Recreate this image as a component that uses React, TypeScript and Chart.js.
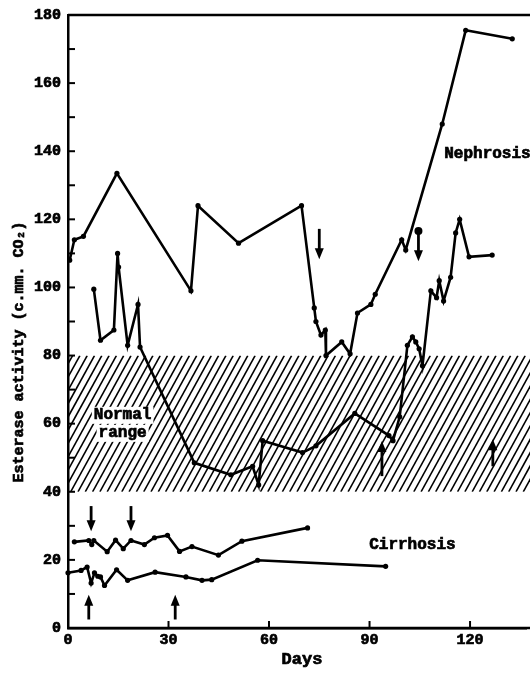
import React, { useEffect, useRef } from "react";
import { Chart, registerables } from "chart.js";

Chart.register(...registerables);

// ---- data (days, esterase activity c.mm. CO2) ----
const nephUpDays = [0.5, 1.9, 4.6, 14.6, 36.7, 38.8, 50.9, 69.7, 73.5, 74, 75.5, 76.8, 77, 81.7, 84.2, 86.4, 90.4, 91.7, 99.6, 100.8, 111.7, 118.7, 132.6];
const nephUpVals = [108, 114, 115, 133.5, 99, 124, 113, 124, 94, 90, 86, 87.5, 80, 84, 80.5, 92.5, 95, 98, 114, 111, 148, 175.5, 173];

const nephLowDays = [7.7, 9.7, 13.7, 14.8, 15.1, 17.8, 20.9, 21.5, 37.7, 48.6, 55.1, 56.9, 58.1, 70, 74, 85.6, 95.8, 97, 99, 101.3, 102.8, 103.8, 104.8, 105.8, 108.3, 110, 110.8, 112.1, 114.2, 115.7, 116.9, 119.7, 126.6];
const nephLowVals = [99.5, 84.5, 87.5, 110, 106, 83, 95, 82.5, 48.5, 45, 47.5, 42, 55, 51.5, 53.5, 63, 56.5, 55, 62, 83, 85.5, 84, 82, 77, 99, 97, 102, 96, 103, 116, 120, 109, 109.5];

const cirrUpDays = [1.9, 6.2, 7.1, 7.7, 11.7, 14.2, 16.5, 18.8, 22.8, 25.8, 29.7, 33.3, 37, 44.9, 51.9, 71.5];
const cirrUpVals = [25.3, 25.7, 24.5, 25.7, 22.4, 25.8, 23.3, 25.7, 24.5, 26.5, 27.2, 22.5, 23.9, 21.4, 25.5, 29.4];

const cirrLowDays = [0, 3.9, 5.7, 6.9, 7.9, 8.9, 9.7, 10.9, 14.5, 17.8, 26, 35.2, 40, 42.9, 56.6, 94.8];
const cirrLowVals = [16.2, 16.9, 17.9, 13.2, 16.2, 15.2, 15, 12.5, 17.1, 14, 16.4, 15, 14, 14.2, 19.9, 18.1];

// normal range band
const normalLow = 40;
const normalHigh = 80;

// arrows: day, tail value, head value, dot at tail
const arrowDays = [75, 104.6, 93.7, 126.8, 6.9, 18.8, 6.2, 32];
const arrowTails = [117.2, 116.6, 44.6, 47.5, 35.8, 35.8, 2.5, 2.5];
const arrowHeads = [108.3, 107.7, 54.9, 55.4, 28.4, 28.4, 9.8, 9.8];
const arrowDots = [false, true, false, false, false, false, false, false];

// text labels
const labelTexts = ["Nephrosis", "Cirrhosis", "Normal", "range"];
const labelDays = [112.3, 89.9, 16.3, 16.3];
const labelVals = [139.3, 24.5, 62.6, 57.3];
const labelAligns = ["left", "left", "center", "center"];

const xTicks = [0, 30, 60, 90, 120];
const yTicks = [0, 20, 40, 60, 80, 100, 120, 140, 160, 180];

const FONT = '"Liberation Mono", monospace';

const pts = (xs: number[], ys: number[]) => xs.map((x, i) => ({ x, y: ys[i] }));

const heavy = (ctx: CanvasRenderingContext2D, t: string, x: number, y: number) => {
  ctx.fillText(t, x, y);
  ctx.lineWidth = 0.7;
  ctx.strokeText(t, x, y);
};

const decor = {
  id: "decor",
  beforeDatasetsDraw(chart: any) {
    const { ctx, chartArea, scales } = chart;
    const y1 = scales.y.getPixelForValue(normalHigh);
    const y0 = scales.y.getPixelForValue(normalLow);
    const h = y0 - y1;
    const right = chart.width;
    ctx.save();
    ctx.beginPath();
    ctx.rect(chartArea.left, y1, right - chartArea.left, h);
    ctx.clip();
    ctx.strokeStyle = "#000";
    ctx.lineWidth = 1.6;
    const slope = 0.55;
    for (let bx = chartArea.left - h * slope - 10; bx < right + 10; bx += 7.3) {
      ctx.beginPath();
      ctx.moveTo(bx, y0);
      ctx.lineTo(bx + h * slope, y1);
      ctx.stroke();
    }
    ctx.restore();
  },
  afterDatasetsDraw(chart: any) {
    const { ctx, chartArea, scales } = chart;
    const xs = scales.x;
    const ys = scales.y;
    const right = chart.width;
    ctx.save();
    ctx.strokeStyle = "#000";
    ctx.fillStyle = "#000";
    // top and bottom border extended to the edge
    ctx.lineWidth = 2.5;
    ctx.beginPath();
    ctx.moveTo(chartArea.left, chartArea.top);
    ctx.lineTo(right, chartArea.top);
    ctx.moveTo(chartArea.left, chartArea.bottom);
    ctx.lineTo(right, chartArea.bottom);
    ctx.stroke();
    // inner ticks
    ctx.lineWidth = 2;
    for (let v = 10; v < 180; v += 10) {
      const py = ys.getPixelForValue(v);
      ctx.beginPath();
      ctx.moveTo(chartArea.left, py);
      ctx.lineTo(chartArea.left + 7, py);
      ctx.stroke();
    }
    xTicks.slice(1).forEach((v) => {
      const px = xs.getPixelForValue(v);
      ctx.beginPath();
      ctx.moveTo(px, chartArea.bottom);
      ctx.lineTo(px, chartArea.bottom - 7);
      ctx.stroke();
    });
    // tick labels
    ctx.font = `bold 15px ${FONT}`;
    ctx.textBaseline = "middle";
    ctx.textAlign = "right";
    yTicks.forEach((v) => heavy(ctx, String(v), chartArea.left - 7, ys.getPixelForValue(v)));
    ctx.textAlign = "center";
    xTicks.forEach((v) => heavy(ctx, String(v), xs.getPixelForValue(v), chartArea.bottom + 12));
    // arrows
    arrowDays.forEach((d, i) => {
      const px = xs.getPixelForValue(d);
      const pt = ys.getPixelForValue(arrowTails[i]);
      const ph = ys.getPixelForValue(arrowHeads[i]);
      const dir = ph > pt ? 1 : -1;
      ctx.lineWidth = 2.8;
      ctx.beginPath();
      ctx.moveTo(px, pt);
      ctx.lineTo(px, ph - dir * 6);
      ctx.stroke();
      ctx.beginPath();
      ctx.moveTo(px, ph);
      ctx.lineTo(px - 4.5, ph - dir * 11);
      ctx.lineTo(px + 4.5, ph - dir * 11);
      ctx.closePath();
      ctx.fill();
      if (arrowDots[i]) {
        ctx.beginPath();
        ctx.arc(px, pt, 4, 0, Math.PI * 2);
        ctx.fill();
      }
    });
    // labels
    ctx.font = `bold 16px ${FONT}`;
    labelTexts.forEach((t, i) => {
      ctx.textAlign = labelAligns[i] as CanvasTextAlign;
      const px = xs.getPixelForValue(labelDays[i]);
      const py = ys.getPixelForValue(labelVals[i]);
      if (i >= 2) {
        const w = ctx.measureText(t).width;
        ctx.fillStyle = "#fff";
        ctx.fillRect(px - w / 2 - 2, py - 8, w + 4, 17);
        ctx.fillStyle = "#000";
      }
      heavy(ctx, t, px, py);
    });
    // axis titles
    ctx.textAlign = "center";
    ctx.font = `bold 17px ${FONT}`;
    heavy(ctx, "Days", 302, 660);
    ctx.font = `bold 15px ${FONT}`;
    ctx.translate(19, 352);
    ctx.rotate(-Math.PI / 2);
    heavy(ctx, "Esterase activity (c.mm. CO\u2082)", 0, 0);
    ctx.restore();
  },
};

export default function App() {
  const ref = useRef<HTMLCanvasElement>(null);
  useEffect(() => {
    if (!ref.current) return;
    const line = (xs: number[], ys: number[]) => ({
      data: pts(xs, ys),
      borderColor: "#000",
      backgroundColor: "#000",
      borderWidth: 2.6,
      pointRadius: 2.6,
      pointBorderWidth: 0,
      tension: 0,
      clip: false as any,
    });
    const chart = new Chart(ref.current, {
      type: "line",
      data: {
        datasets: [
          { label: "Nephrosis 1", ...line(nephUpDays, nephUpVals) },
          { label: "Nephrosis 2", ...line(nephLowDays, nephLowVals) },
          { label: "Cirrhosis 1", ...line(cirrUpDays, cirrUpVals) },
          { label: "Cirrhosis 2", ...line(cirrLowDays, cirrLowVals) },
        ],
      },
      options: {
        responsive: false,
        animation: false,
        layout: { padding: { top: 15, right: 0, left: 0, bottom: 0 } },
        plugins: { legend: { display: false }, tooltip: { enabled: false } },
        scales: {
          x: {
            type: "linear",
            min: 0,
            max: 136.7,
            grid: { display: false },
            border: { display: true, color: "#000", width: 2.5 },
            ticks: { display: false },
            afterBuildTicks: (s: any) => { s.ticks = xTicks.map((v) => ({ value: v })); },
            afterFit: (s: any) => { s.height = 47; },
          },
          y: {
            type: "linear",
            min: 0,
            max: 180,
            grid: { display: false },
            border: { display: true, color: "#000", width: 2.5 },
            ticks: { display: false },
            afterBuildTicks: (s: any) => { s.ticks = yTicks.map((v) => ({ value: v })); },
            afterFit: (s: any) => { s.width = 68; },
          },
        },
      },
      plugins: [decor],
    });
    return () => chart.destroy();
  }, []);
  return (
    <div style={{ position: "absolute", left: 0, top: 0, width: 530, height: 675, background: "#fff" }}>
      <canvas ref={ref} width={530} height={675} style={{ display: "block" }} />
    </div>
  );
}
